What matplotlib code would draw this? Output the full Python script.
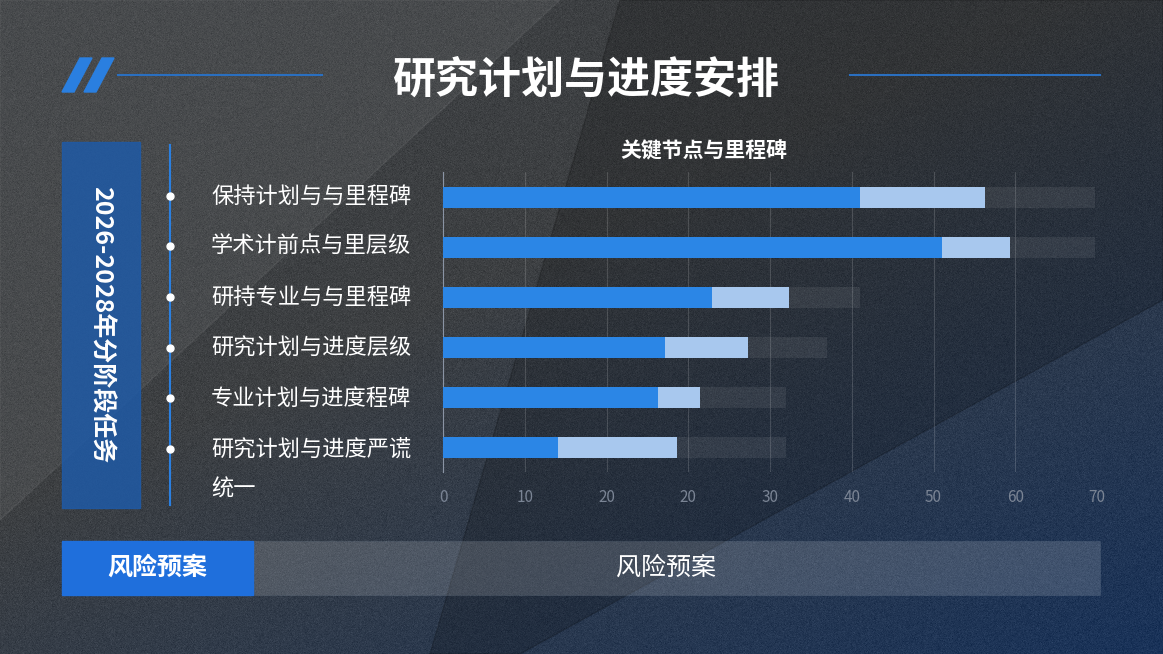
import matplotlib
matplotlib.use("Agg")
import matplotlib.pyplot as plt
import numpy as np
from matplotlib.patches import Rectangle, Polygon

plt.rcParams['font.family'] = ['Noto Sans CJK SC', 'DejaVu Sans']

title = "研究计划与进度安排"
chart_title = "关键节点与里程碑"
side_label = "2026-2028年分阶段任务"
categories = ["保持计划与与里程碑", "学术计前点与里层级", "研持专业与与里程碑",
              "研究计划与进度层级", "专业计划与进度程碑", "研究计划与进度严谎\n统一"]
done = [51.0, 61.0, 32.9, 27.1, 26.3, 14.1]
planned = [66.3, 69.4, 42.3, 37.3, 31.4, 28.6]
track = [79.7, 79.7, 51.0, 47.0, 42.0, 42.0]
tick_pos = [0, 10, 20, 30, 40, 50, 60, 70, 80]
tick_labels = ["0", "10", "20", "20", "30", "40", "50", "60", "70"]
risk_label = "风险预案"
risk_text = "风险预案"

W, H = 1163, 654
fig = plt.figure(figsize=(W/100, H/100), dpi=100)

bg = fig.add_axes([0, 0, 1, 1])
bg.set_xlim(0, W); bg.set_ylim(H, 0); bg.axis('off')
yy, xx = np.mgrid[0:H, 0:W]
t = np.clip((xx / W) * 0.6 + (yy / H) * 0.7 - 0.55, 0, 1)
base = np.array([0.24, 0.25, 0.26])
blue = np.array([0.05, 0.18, 0.38])
rng = np.random.default_rng(1)
noise = rng.normal(0, 0.018, (H, W, 1))
img = base[None, None, :] * (1 - t[..., None]) + blue[None, None, :] * t[..., None] + noise
img = np.clip(img, 0, 1)
bg.imshow(img, extent=[0, W, H, 0], aspect='auto', zorder=0)
bg.add_patch(Polygon([[0, 0], [560, 0], [0, 520]], closed=True, color='white', alpha=0.06, zorder=1))
bg.add_patch(Polygon([[620, 0], [1163, 0], [1163, 300], [520, 654], [430, 654]], closed=True, color='black', alpha=0.18, zorder=1))

bg.add_patch(Polygon([[62, 92], [80, 58], [92, 58], [74, 92]], color='#2a7fe0', zorder=2))
bg.add_patch(Polygon([[84, 92], [102, 58], [114, 58], [96, 92]], color='#2a7fe0', zorder=2))
bg.plot([118, 322], [75, 75], color='#2a6fc0', lw=1.5, zorder=2)
bg.plot([850, 1100], [75, 75], color='#2a6fc0', lw=1.5, zorder=2)
bg.text(586, 80, title, color='white', fontsize=31, fontweight='bold', ha='center', va='center', zorder=3)

bg.add_patch(Rectangle((62, 142), 78, 366, color='#1f5aa6', alpha=0.85, zorder=2))
bg.text(101, 325, side_label, color='white', fontsize=18, fontweight='bold', rotation=-90,
        ha='center', va='center', zorder=3)
bg.plot([170, 170], [145, 505], color='#2a7fe0', lw=1.5, zorder=2)

rows_y = [196, 246, 297, 348, 398, 449]
for y, c in zip(rows_y, categories):
    bg.plot(170, y, 'o', color='white', ms=5, zorder=3)
    lines = c.split('\n')
    for k, s in enumerate(lines):
        bg.text(211, y + 40 * k, s, color='white', fontsize=16, ha='left', va='center', zorder=3)

bg.text(704, 151, chart_title, color='white', fontsize=15, fontweight='bold', ha='center', va='center', zorder=3)

bg.add_patch(Rectangle((62, 541), 1038, 54, facecolor='white', alpha=0.15, edgecolor='#8899aa', lw=0.8, zorder=2))
bg.add_patch(Rectangle((62, 541), 191, 54, color='#1f6fdc', zorder=3))
bg.text(157, 568, risk_label, color='white', fontsize=18, fontweight='bold', ha='center', va='center', zorder=4)
bg.text(666, 568, risk_text, color='white', fontsize=18, ha='center', va='center', zorder=4)

ax = fig.add_axes([443/W, 1 - 472/H, (1097 - 443)/W, (472 - 172)/H])
ax.patch.set_alpha(0)
n = len(categories)
ypos = np.arange(n)
ax.barh(ypos, track, height=0.42, color='white', alpha=0.07, zorder=2)
ax.barh(ypos, planned, height=0.42, color='#a8c8ee', zorder=3)
ax.barh(ypos, done, height=0.42, color='#2b86e6', zorder=4)
ax.set_ylim(n - 0.5, -0.5)
ax.set_xlim(0, 80)
ax.set_xticks(tick_pos)
ax.set_xticklabels(tick_labels, color='#7a8494', fontsize=11)
ax.set_yticks([])
ax.grid(axis='x', color='white', alpha=0.15, lw=0.8, zorder=1)
for s in ['top', 'right', 'bottom']:
    ax.spines[s].set_visible(False)
ax.spines['left'].set_color('#8a94a4')
ax.tick_params(axis='x', length=0, pad=12)

fig.savefig("out.png", dpi=100)
